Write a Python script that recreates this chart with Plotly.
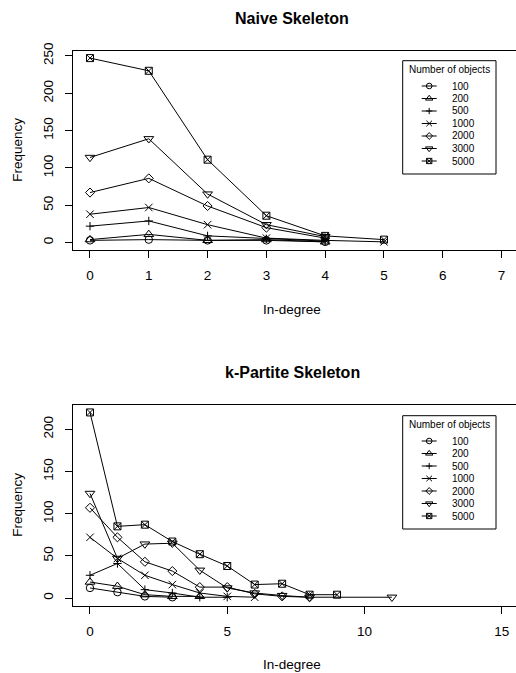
import plotly.graph_objects as go

# ---------------- data ----------------
series_names = ["100", "200", "500", "1000", "2000", "3000", "5000"]

naive_x = {
    "100": [0, 1, 2, 3, 4],
    "200": [0, 1, 2, 3, 4],
    "500": [0, 1, 2, 3, 4],
    "1000": [0, 1, 2, 3, 4, 5],
    "2000": [0, 1, 2, 3, 4],
    "3000": [0, 1, 2, 3, 4],
    "5000": [0, 1, 2, 3, 4, 5],
}
naive_y = {
    "100": [3, 4, 3, 3, 1],
    "200": [4, 11, 3, 4, 1],
    "500": [22, 29, 9, 5, 2],
    "1000": [38, 47, 24, 6, 3, 1],
    "2000": [67, 86, 49, 20, 6],
    "3000": [114, 139, 65, 24, 8],
    "5000": [247, 230, 111, 36, 9, 4],
}

kpartite_x = {
    "100": [0, 1, 2, 3],
    "200": [0, 1, 2, 3, 4],
    "500": [0, 1, 2, 3, 4, 5],
    "1000": [0, 1, 2, 3, 4, 5, 6],
    "2000": [0, 1, 2, 3, 4, 5, 6, 7, 8],
    "3000": [0, 1, 2, 3, 4, 5, 6, 7, 8, 11],
    "5000": [0, 1, 2, 3, 4, 5, 6, 7, 8, 9],
}
kpartite_y = {
    "100": [12, 7, 2, 1],
    "200": [19, 14, 4, 2, 2],
    "500": [27, 41, 10, 6, 1, 1],
    "1000": [72, 47, 27, 16, 6, 2, 1],
    "2000": [107, 72, 43, 32, 13, 13, 5, 2, 1],
    "3000": [124, 47, 64, 65, 33, 12, 6, 3, 1, 1],
    "5000": [220, 85, 87, 67, 52, 38, 16, 17, 4, 4],
}

naive_xticks = [0, 1, 2, 3, 4, 5, 6, 7]
naive_yticks = [0, 50, 100, 150, 200, 250]
kp_xticks = [0, 5, 10, 15]
kp_yticks = [0, 50, 100, 150, 200]

title_top = "Naive Skeleton"
title_bottom = "k-Partite Skeleton"
x_label = "In-degree"
y_label = "Frequency"
legend_title = "Number of objects"

# ---------------- styles ----------------
symbols = ["circle-open", "triangle-up-open", "cross-thin-open", "x-thin-open",
           "diamond-open", "triangle-down-open", "square-x-open"]
sizes = [7.5, 8.5, 6, 7.5, 7, 8.5, 7]
FONT = "Liberation Sans, Arial, Helvetica, sans-serif"
W, H = 516, 673
L = 73
PW = W - L
BLACK = "#000000"

# panel geometry in pixels (top, bottom) and axis ranges
panels = [
    dict(xa="x", ya="y", top=50.7, bottom=250.0, xr=[-0.289, 7.245], yr=[-9.9, 256.9],
         xd=naive_x, yd=naive_y, xt=naive_xticks, yt=naive_yticks,
         title=title_top, title_y=18, xlab_y=310, legend_top=60.7),
    dict(xa="x2", ya="y2", top=405.0, bottom=605.5, xr=[-0.619, 15.52], yr=[-8.8, 228.8],
         xd=kpartite_x, yd=kpartite_y, xt=kp_xticks, yt=kp_yticks,
         title=title_bottom, title_y=372, xlab_y=664, legend_top=415.7),
]

fig = go.Figure()


def px2paper_x(p):
    return (p - L) / PW


def px2paper_y(p):
    return 1 - p / H


def text(x, y, s, size=13.5, bold=False, angle=0, xanchor="center"):
    fig.add_annotation(x=px2paper_x(x), y=px2paper_y(y), xref="paper", yref="paper",
                       text=f"<b>{s}</b>" if bold else s,
                       showarrow=False, textangle=angle, xanchor=xanchor, yanchor="middle",
                       font=dict(family=FONT, size=size, color=BLACK))


axis_common = dict(showgrid=False, zeroline=False, showline=True, linecolor=BLACK,
                   linewidth=1, ticks="outside", ticklen=7, tickcolor=BLACK, automargin=False,
                   tickwidth=1, tickfont=dict(family=FONT, size=13.5, color=BLACK))

layout_axes = {}
for k, p in enumerate(panels):
    sx = "" if k == 0 else str(k + 1)
    layout_axes["xaxis" + sx] = dict(domain=[0, 1], anchor=p["ya"], range=p["xr"],
                                     tickvals=p["xt"], mirror=True, ticklabelstandoff=6,
                                     **axis_common)
    layout_axes["yaxis" + sx] = dict(domain=[px2paper_y(p["bottom"]), px2paper_y(p["top"])],
                                     anchor=p["xa"], range=p["yr"], tickvals=p["yt"],
                                     tickangle=-90, ticklabelstandoff=7, **axis_common)

fig.update_layout(width=W, height=H, paper_bgcolor="white", plot_bgcolor="white",
                  margin=dict(l=L, r=0, t=0, b=0, pad=0), showlegend=False, **layout_axes)

for p in panels:
    # data series
    for i, name in enumerate(series_names):
        fig.add_trace(go.Scatter(
            x=p["xd"][name], y=p["yd"][name], mode="lines+markers",
            xaxis=p["xa"], yaxis=p["ya"],
            line=dict(color=BLACK, width=1),
            marker=dict(symbol=symbols[i], size=sizes[i], color=BLACK,
                        line=dict(color=BLACK, width=1)),
            showlegend=False, name=name, cliponaxis=False))

    # titles
    text(292, p["title_y"], p["title"], size=16, bold=True)
    text(292, p["xlab_y"], x_label)
    text(17.5, (p["top"] + p["bottom"]) / 2, y_label, angle=-90)

    # custom legend box
    left, right = 402.7, 496.0
    btop = p["legend_top"]
    fig.add_shape(type="rect", xref="paper", yref="paper",
                  x0=px2paper_x(left), x1=px2paper_x(right),
                  y0=px2paper_y(btop), y1=px2paper_y(btop + 113.3),
                  line=dict(color=BLACK, width=1), fillcolor="rgba(0,0,0,0)", layer="above")
    text((left + right) / 2, btop + 8.6, legend_title, size=10)

    def to_data_x(px):
        return p["xr"][0] + (px - L) / PW * (p["xr"][1] - p["xr"][0])

    def to_data_y(py):
        return p["yr"][0] + (p["bottom"] - py) / (p["bottom"] - p["top"]) * (p["yr"][1] - p["yr"][0])

    for i, name in enumerate(series_names):
        yy = btop + 25.3 + i * 12.5
        fig.add_shape(type="line", xref="paper", yref="paper",
                      x0=px2paper_x(421.7), x1=px2paper_x(436.7),
                      y0=px2paper_y(yy), y1=px2paper_y(yy),
                      line=dict(color=BLACK, width=1), layer="below")
        fig.add_trace(go.Scatter(x=[to_data_x(429.2)], y=[to_data_y(yy)],
                                 xaxis=p["xa"], yaxis=p["ya"], mode="markers",
                                 marker=dict(symbol=symbols[i], size=sizes[i] * 0.75,
                                             color=BLACK, line=dict(color=BLACK, width=1)),
                                 showlegend=False, hoverinfo="skip", cliponaxis=False))
        text(450, yy, name, size=10, xanchor="left")

fig.write_html("out.html", config={"displayModeBar": False},
               post_script="document.body.style.margin='0';document.body.style.overflow='hidden';")
